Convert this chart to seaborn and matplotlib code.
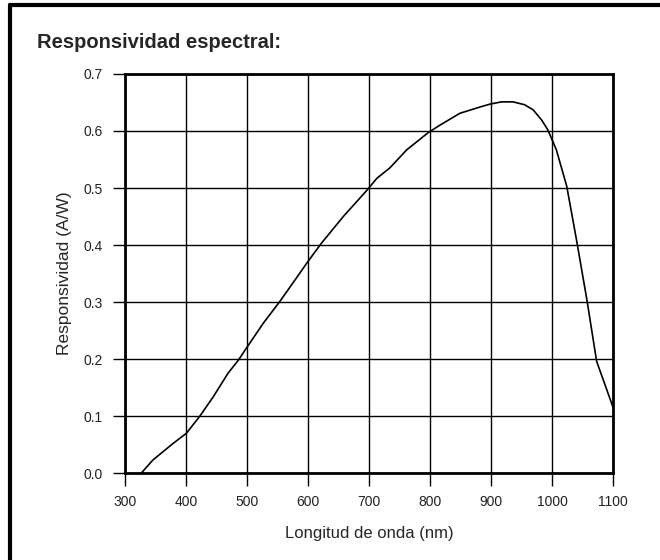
# curva de responsividad espectral
import seaborn as sns
import matplotlib.pyplot as plt
import pandas as pd
from matplotlib.lines import Line2D

longitud = [327, 346, 379, 401, 423, 445, 469, 486, 501, 527, 554, 581, 600, 622,
            658, 695, 713, 734, 762, 797, 816, 849, 882, 898, 917, 936, 955, 969,
            983, 993, 1007, 1024, 1040, 1057, 1073, 1085, 1100]
responsividad = [0.0, 0.023, 0.052, 0.070, 0.100, 0.134, 0.175, 0.198, 0.222, 0.263,
                 0.301, 0.342, 0.371, 0.403, 0.450, 0.494, 0.517, 0.535, 0.567, 0.597,
                 0.610, 0.631, 0.642, 0.647, 0.651, 0.651, 0.646, 0.637, 0.619, 0.602,
                 0.567, 0.503, 0.409, 0.304, 0.196, 0.160, 0.115]

xticks = [300, 400, 500, 600, 700, 800, 900, 1000, 1100]
yticks = [0.0, 0.1, 0.2, 0.3, 0.4, 0.5, 0.6, 0.7]

df = pd.DataFrame({'nm': longitud, 'aw': responsividad})

sns.set_style('ticks')
plt.rcParams['font.family'] = ['Liberation Sans', 'DejaVu Sans']

fig = plt.figure(figsize=(6.6, 5.6), dpi=100)
ax = fig.add_axes([0.189, 0.155, 0.740, 0.713])

sns.lineplot(data=df, x='nm', y='aw', ax=ax, color='black', linewidth=1.2)

ax.set_xlim(300, 1100)
ax.set_ylim(0, 0.7)
ax.set_xticks(xticks)
ax.set_yticks(yticks)
ax.set_yticklabels([f'{v:.1f}' for v in yticks])
ax.grid(True, color='black', linewidth=1.0)
ax.set_axisbelow(True)
for s in ax.spines.values():
    s.set_linewidth(2)
    s.set_color('black')
ax.tick_params(axis='both', direction='out', length=9, width=1, color='black',
               labelsize=10, labelcolor='#222222', pad=7)

ax.set_xlabel('Longitud de onda (nm)', fontsize=12, labelpad=12)
ax.set_ylabel('Responsividad (A/W)', fontsize=12.5, labelpad=8)

fig.text(0.056, 0.924, 'Responsividad espectral:', fontsize=14.5,
         fontweight='bold', ha='left', va='center')

# marco de la figura (solo se ven el borde izquierdo y superior)
fig.add_artist(Line2D([10/660, 10/660], [0, 1 - 5/560], color='black', linewidth=3,
                      transform=fig.transFigure))
fig.add_artist(Line2D([10/660, 1], [1 - 5/560, 1 - 5/560], color='black', linewidth=3,
                      transform=fig.transFigure))

fig.savefig('out.png', dpi=100)
